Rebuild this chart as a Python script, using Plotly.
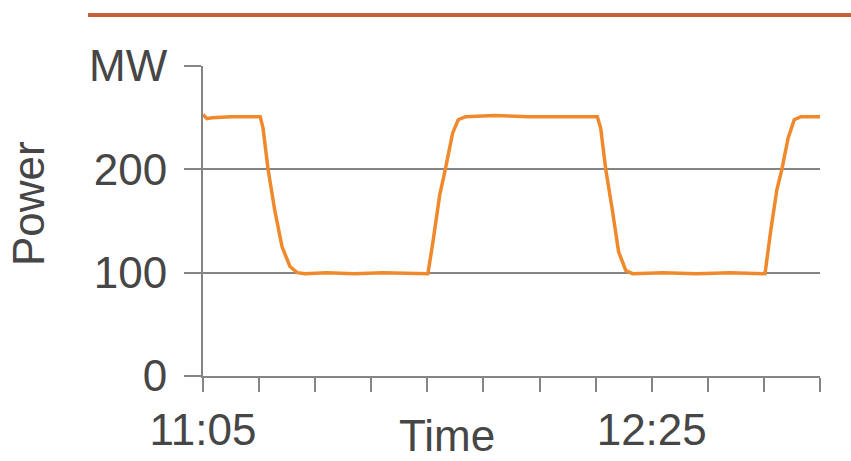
import plotly.graph_objects as go

# ---- data ----
day = "2024-01-01 "
times = ["11:05:00", "11:05:42", "11:06:36", "11:10:00", "11:15:12", "11:15:42", "11:16:36",
         "11:17:48", "11:19:06", "11:20:30", "11:21:48", "11:23:12", "11:27:00", "11:32:00",
         "11:37:00", "11:42:00", "11:45:06", "11:46:00", "11:47:12", "11:48:12", "11:49:30",
         "11:50:30", "11:51:48", "11:57:00", "12:03:00", "12:09:00", "12:15:18", "12:15:54",
         "12:16:48", "12:18:00", "12:19:06", "12:20:24", "12:21:36", "12:27:00", "12:33:00",
         "12:39:00", "12:45:12", "12:46:12", "12:47:18", "12:48:12", "12:49:18", "12:50:24",
         "12:51:36", "12:55:00"]
power = [253, 249, 250, 251, 251, 240, 200,
         160, 125, 106, 100, 99, 100, 99,
         100, 99, 99, 130, 175, 200, 235,
         248, 251, 252, 251, 251, 251, 240,
         200, 160, 120, 102, 99, 100, 99,
         100, 99, 140, 180, 200, 230, 248,
         251, 251]

x_tick_times = ["11:05", "11:15", "11:25", "11:35", "11:45", "11:55",
                "12:05", "12:15", "12:25", "12:35", "12:45", "12:55"]
x_tick_labels = ["11:05", "", "", "", "", "", "", "", "12:25", "", "", ""]
y_tick_vals = [0, 100, 200, 300]
y_tick_labels = ["0", "100", "200", "MW"]

# ---- figure ----
W, H = 851, 461
L, R, T, B = 203, 820, 66, 376

def px(x):
    return (x - L) / (R - L)

def py(y):
    return (B - y) / (B - T)

grey = "#858585"
txt = "#464646"
font = dict(family="Liberation Sans, Arial, sans-serif", size=44, color=txt)

fig = go.Figure()
fig.add_trace(go.Scatter(
    x=[day + t for t in times], y=power, mode="lines",
    line=dict(color="#f0892b", width=3.5), showlegend=False, hoverinfo="skip"))

fig.update_layout(
    width=W, height=H,
    margin=dict(l=L, r=W - R, t=T, b=H - B, autoexpand=False),
    paper_bgcolor="white", plot_bgcolor="white",
    font=font,
    xaxis=dict(
        type="date", automargin=False,
        range=[day + "11:05", day + "12:55"],
        tickvals=[day + t for t in x_tick_times], ticktext=x_tick_labels,
        showgrid=False, zeroline=False,
        showline=True, linecolor=grey, linewidth=2,
        ticks="outside", ticklen=14, tickwidth=2, tickcolor=grey,
        ticklabelstandoff=0,
        tickfont=font,
    ),
    yaxis=dict(
        range=[0, 300], automargin=False,
        tickvals=y_tick_vals, ticktext=y_tick_labels,
        showgrid=True, gridcolor=grey, gridwidth=2,
        zeroline=False,
        showline=True, linecolor=grey, linewidth=2,
        ticks="outside", ticklen=17, tickwidth=2, tickcolor=grey,
        ticklabelstandoff=8,
        tickfont=font,
    ),
    shapes=[dict(type="line", xref="paper", yref="paper",
                 x0=px(88), x1=px(W + 5), y0=py(15), y1=py(15),
                 line=dict(color="#c65f3a", width=4))],
    annotations=[
        dict(text="Power", xref="paper", yref="paper", x=px(28), y=py(204),
             textangle=-90, showarrow=False, xanchor="center", yanchor="middle", font=font),
        dict(text="Time", xref="paper", yref="paper", x=px(447), y=py(435),
             showarrow=False, xanchor="center", yanchor="middle", font=font),
    ],
)

fig.write_html("out.html", config={"displayModeBar": False},
               post_script="document.body.style.margin='0px';document.body.style.overflow='hidden';")
